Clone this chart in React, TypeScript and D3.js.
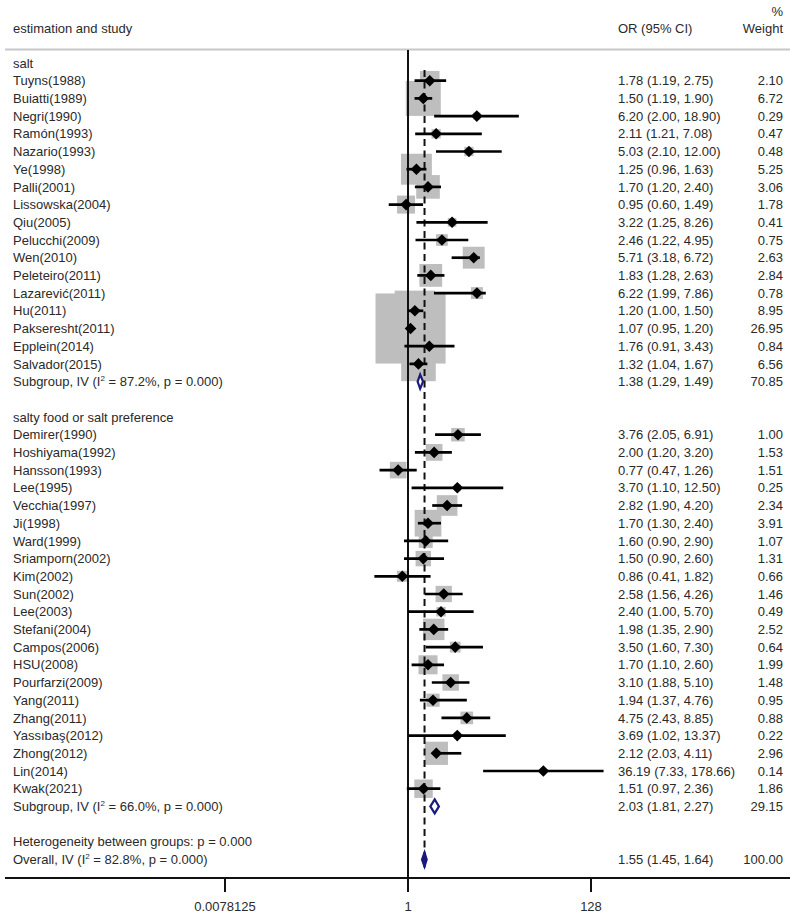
import React from "react";
import * as d3 from "d3";

// ---- data ----
const saltStudies = ["Tuyns(1988)","Buiatti(1989)","Negri(1990)","Ramón(1993)","Nazario(1993)","Ye(1998)","Palli(2001)","Lissowska(2004)","Qiu(2005)","Pelucchi(2009)","Wen(2010)","Peleteiro(2011)","Lazarević(2011)","Hu(2011)","Pakseresht(2011)","Epplein(2014)","Salvador(2015)"];
const saltOR = [1.78,1.50,6.20,2.11,5.03,1.25,1.70,0.95,3.22,2.46,5.71,1.83,6.22,1.20,1.07,1.76,1.32];
const saltLo = [1.19,1.19,2.00,1.21,2.10,0.96,1.20,0.60,1.25,1.22,3.18,1.28,1.99,1.00,0.95,0.91,1.04];
const saltHi = [2.75,1.90,18.90,7.08,12.00,1.63,2.40,1.49,8.26,4.95,6.72,2.63,7.86,1.50,1.20,3.43,1.67];
const saltW = [2.10,6.72,0.29,0.47,0.48,5.25,3.06,1.78,0.41,0.75,2.63,2.84,0.78,8.95,26.95,0.84,6.56];
const saltSub = { or: 1.38, lo: 1.29, hi: 1.49, w: "70.85", i2: "87.2%", p: "0.000" };

const foodStudies = ["Demirer(1990)","Hoshiyama(1992)","Hansson(1993)","Lee(1995)","Vecchia(1997)","Ji(1998)","Ward(1999)","Sriamporn(2002)","Kim(2002)","Sun(2002)","Lee(2003)","Stefani(2004)","Campos(2006)","HSU(2008)","Pourfarzi(2009)","Yang(2011)","Zhang(2011)","Yassıbaş(2012)","Zhong(2012)","Lin(2014)","Kwak(2021)"];
const foodOR = [3.76,2.00,0.77,3.70,2.82,1.70,1.60,1.50,0.86,2.58,2.40,1.98,3.50,1.70,3.10,1.94,4.75,3.69,2.12,36.19,1.51];
const foodLo = [2.05,1.20,0.47,1.10,1.90,1.30,0.90,0.90,0.41,1.56,1.00,1.35,1.60,1.10,1.88,1.37,2.43,1.02,2.03,7.33,0.97];
const foodHi = [6.91,3.20,1.26,12.50,4.20,2.40,2.90,2.60,1.82,4.26,5.70,2.90,7.30,2.60,5.10,4.76,8.85,13.37,4.11,178.66,2.36];
const foodW = [1.00,1.53,1.51,0.25,2.34,3.91,1.07,1.31,0.66,1.46,0.49,2.52,0.64,1.99,1.48,0.95,0.88,0.22,2.96,0.14,1.86];
const foodSub = { or: 2.03, lo: 1.81, hi: 2.27, w: "29.15", i2: "66.0%", p: "0.000" };

const overall = { or: 1.55, lo: 1.45, hi: 1.64, w: "100.00", i2: "82.8%", p: "0.000" };
const groupNames = ["salt", "salty food or salt preference"];
const hetText = "Heterogeneity between groups: p = 0.000";
const tickValues = [0.0078125, 1, 128];
const tickLabels = ["0.0078125", "1", "128"];

// ---- layout ----
const W = 795, H = 919;
const FONT = "'Liberation Sans', Arial, sans-serif";
const TXT = "#2a2a2a";
const FS = 13;
const rowY0 = 63, rowStep = 17.7;
const x = d3.scaleLog().base(2).domain([0.0078125, 128]).range([225, 591]);
const f2 = d3.format(".2f");

type Row =
  | { kind: "header"; label: string }
  | { kind: "study"; label: string; or: number; lo: number; hi: number; w: number }
  | { kind: "sub"; label: string; or: number; lo: number; hi: number; w: string; i2: string; p: string; overall?: boolean }
  | { kind: "text"; label: string }
  | { kind: "blank" };

const rows: Row[] = [];
rows.push({ kind: "header", label: groupNames[0] });
saltStudies.forEach((s, i) => rows.push({ kind: "study", label: s, or: saltOR[i], lo: saltLo[i], hi: saltHi[i], w: saltW[i] }));
rows.push({ kind: "sub", label: "Subgroup, IV", ...saltSub });
rows.push({ kind: "blank" });
rows.push({ kind: "header", label: groupNames[1] });
foodStudies.forEach((s, i) => rows.push({ kind: "study", label: s, or: foodOR[i], lo: foodLo[i], hi: foodHi[i], w: foodW[i] }));
rows.push({ kind: "sub", label: "Subgroup, IV", ...foodSub });
rows.push({ kind: "blank" });
rows.push({ kind: "text", label: hetText });
rows.push({ kind: "sub", label: "Overall, IV", ...overall, overall: true });

const rowY = (i: number) => rowY0 + i * rowStep;
const boxK = 13.5;
const axisY = 878;
const overallIdx = rows.length - 1;

export default function App() {
  const studyRows = rows.map((r, i) => ({ r, i })).filter((d) => d.r.kind === "study") as { r: Extract<Row, { kind: "study" }>; i: number }[];
  const subRows = rows.map((r, i) => ({ r, i })).filter((d) => d.r.kind === "sub") as { r: Extract<Row, { kind: "sub" }>; i: number }[];
  const diamondPath = (cx: number, cy: number, h: number) => `M${cx - h},${cy}L${cx},${cy - h}L${cx + h},${cy}L${cx},${cy + h}Z`;
  return (
    <svg width={W} height={H} style={{ position: "absolute", left: 0, top: 0, background: "#fff" }} fontFamily={FONT}>
      <rect x={0} y={0} width={W} height={H} fill="#fff" />
      {/* headers */}
      <text x={13} y={33} fontSize={FS} fill={TXT}>estimation and study</text>
      <text x={618} y={33} fontSize={FS} fill={TXT}>OR (95% CI)</text>
      <text x={783} y={16} fontSize={FS} fill={TXT} textAnchor="end">%</text>
      <text x={783} y={33} fontSize={FS} fill={TXT} textAnchor="end">Weight</text>
      <line x1={5} x2={790} y1={49.5} y2={49.5} stroke="#c8c8c8" strokeWidth={2} />

      {/* boxes */}
      {studyRows.map(({ r, i }) => {
        const s = boxK * Math.sqrt(r.w);
        return <rect key={"b" + i} x={x(r.or) - s / 2} y={rowY(i) - s / 2} width={s} height={s} fill="#bebebe" />;
      })}

      {/* reference lines */}
      <line x1={x(1)} x2={x(1)} y1={50} y2={axisY} stroke="#111" strokeWidth={2} />
      <line x1={x(overall.or)} x2={x(overall.or)} y1={70} y2={rowY(overallIdx) + 8} stroke="#111" strokeWidth={2} strokeDasharray="7,4.5" />

      {/* CIs and points */}
      {studyRows.map(({ r, i }) => (
        <g key={"c" + i}>
          <line x1={x(r.lo)} x2={x(r.hi)} y1={rowY(i)} y2={rowY(i)} stroke="#000" strokeWidth={2.7} />
          <path d={diamondPath(x(r.or), rowY(i), 5.8)} fill="#000" />
        </g>
      ))}

      {/* pooled diamonds */}
      {subRows.map(({ r, i }) => {
        const cy = rowY(i), h = 7;
        const l = x(r.lo), c = x(r.or), rr = x(r.hi);
        return (
          <path key={"d" + i} d={`M${l},${cy}L${c},${cy - h}L${rr},${cy}L${c},${cy + h}Z`} fill={r.overall ? "#1a1a7a" : "#fff"} stroke="#1a1a7a" strokeWidth={2.2} strokeLinejoin="miter" />
        );
      })}

      {/* left labels */}
      {rows.map((r, i) => {
        if (r.kind === "blank") return null;
        const y = rowY(i) + 4.6;
        if (r.kind === "sub") {
          return (
            <text key={"l" + i} x={13} y={y} fontSize={FS} fill={TXT}>
              {r.label} (I<tspan fontSize={8} dy={-5}>2</tspan><tspan dy={5}> = {r.i2}, p = {r.p})</tspan>
            </text>
          );
        }
        return <text key={"l" + i} x={13} y={y} fontSize={FS} fill={TXT}>{r.label}</text>;
      })}

      {/* right columns */}
      {rows.map((r, i) => {
        if (r.kind !== "study" && r.kind !== "sub") return null;
        const y = rowY(i) + 4.6;
        const w = r.kind === "study" ? f2(r.w) : r.w;
        return (
          <g key={"r" + i}>
            <text x={618} y={y} fontSize={FS} fill={TXT}>{`${f2(r.or)} (${f2(r.lo)}, ${f2(r.hi)})`}</text>
            <text x={783} y={y} fontSize={FS} fill={TXT} textAnchor="end">{w}</text>
          </g>
        );
      })}

      {/* axis */}
      <line x1={5} x2={790} y1={axisY} y2={axisY} stroke="#111" strokeWidth={2} />
      {tickValues.map((t, k) => (
        <g key={"t" + k}>
          <line x1={x(t)} x2={x(t)} y1={axisY} y2={axisY + 14} stroke="#111" strokeWidth={2} />
          <text x={x(t)} y={911} fontSize={FS} fill={TXT} textAnchor="middle">{tickLabels[k]}</text>
        </g>
      ))}
    </svg>
  );
}
